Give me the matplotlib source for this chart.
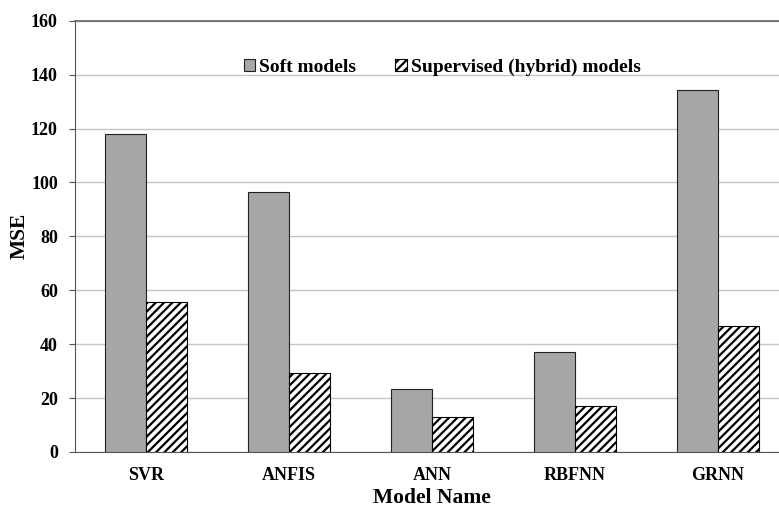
import numpy as np
import matplotlib.pyplot as plt

models = ['SVR', 'ANFIS', 'ANN', 'RBFNN', 'GRNN']
soft_mse = [117.8, 96.6, 23.2, 37.0, 134.4]
hybrid_mse = [55.8, 29.3, 12.9, 17.2, 46.7]
y_ticks = [0, 20, 40, 60, 80, 100, 120, 140, 160]

plt.rcParams['font.family'] = ['Liberation Serif', 'DejaVu Serif']
plt.rcParams['font.weight'] = 'bold'
plt.rcParams['hatch.linewidth'] = 1.6

fig = plt.figure(figsize=(7.79, 5.09), dpi=100, facecolor='white')
# axes run a little past the right edge, as in the cropped original
ax = fig.add_axes([74.5 / 779, 1 - 452 / 509, 715 / 779, 431.3 / 509])

x = np.arange(len(models))
w = 0.287
ax.bar(x - w / 2, soft_mse, w, color='#a6a6a6', edgecolor='#222222',
       linewidth=0.8, label='Soft models', zorder=3)
ax.bar(x + w / 2, hybrid_mse, w, color='white', edgecolor='black',
       hatch='////', linewidth=0.8, label='Supervised (hybrid) models', zorder=3)

ax.set_xlim(-0.5, len(models) - 0.5)
ax.set_ylim(0, 160)
ax.set_yticks(y_ticks)
ax.set_xticks(x)
ax.set_xticklabels(models)
ax.tick_params(axis='x', length=0, pad=11, labelsize=13)
ax.tick_params(axis='y', length=4, width=0.8, color='#555555', pad=8, labelsize=13)
ax.yaxis.grid(True, color='#c4c4c4', linewidth=1.0, zorder=0)
ax.set_axisbelow(True)

ax.spines['right'].set_visible(False)
ax.spines['top'].set_color('#666666')
ax.spines['top'].set_linewidth(1.2)
ax.spines['left'].set_color('#555555')
ax.spines['bottom'].set_color('#555555')

ax.set_xlabel('Model Name', fontsize=15.5, fontweight='bold', labelpad=3)
ax.set_ylabel('MSE', fontsize=15.5, fontweight='bold', labelpad=1)

ax.legend(loc='upper center', bbox_to_anchor=((442 - 74.5) / 715, 0.952),
          ncol=2, frameon=False, fontsize=14, handlelength=0.6,
          handleheight=0.6, handletextpad=0.2, columnspacing=2.0)

fig.savefig('out.png', dpi=100)
